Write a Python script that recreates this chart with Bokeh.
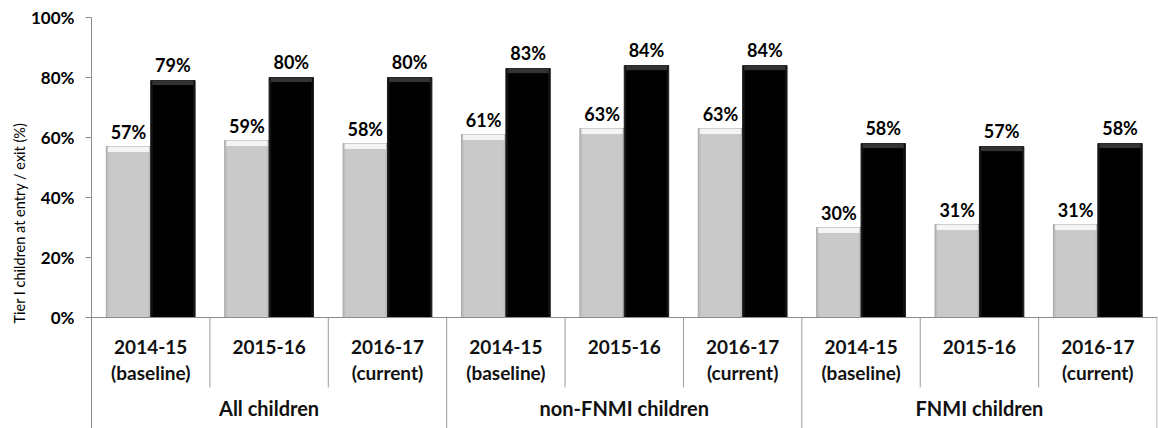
from bokeh.plotting import figure
from bokeh.models import ColumnDataSource, Range1d, FixedTicker, PrintfTickFormatter, Title
from bokeh.core.properties import value
from bokeh.embed import file_html
from bokeh.resources import INLINE

# Data: share of Tier I children at entry (grey) and exit (black)
groups = ["All children", "non-FNMI children", "FNMI children"]
years = ["2014-15", "2015-16", "2016-17"]
year_notes = ["(baseline)", "", "(current)"]
entry = [57, 59, 58, 61, 63, 63, 30, 31, 31]
exit_ = [79, 80, 80, 83, 84, 84, 58, 57, 58]
y_ticks = [0, 20, 40, 60, 80, 100]

FONT = "Lato"
n = len(entry)
centers = [i + 0.5 for i in range(n)]
bar_w = 0.375

p = figure(width=1158, height=428, output_backend="svg", toolbar_location=None,
           x_range=Range1d(0, n + 0.004), y_range=Range1d(-37, 100),
           min_border_left=91, min_border_right=1, min_border_top=17, min_border_bottom=0)
p.xaxis.visible = False
p.xgrid.visible = False
p.ygrid.visible = False
p.outline_line_color = None
p.background_fill_color = "white"

yaxis = p.yaxis[0]
yaxis.ticker = FixedTicker(ticks=y_ticks)
yaxis.formatter = PrintfTickFormatter(format="%d%%")
yaxis.axis_line_color = "#8c8c8c"
yaxis.major_tick_line_color = "#8c8c8c"
yaxis.major_tick_out = 6
yaxis.major_tick_in = 0
yaxis.minor_tick_line_color = None
yaxis.major_label_text_font = FONT
yaxis.major_label_text_font_size = "17px"
yaxis.major_label_text_font_style = "bold"
yaxis.major_label_text_color = "#000000"
yaxis.major_label_standoff = 11

# Vertical axis title, raised to sit beside the value scale
p.add_layout(Title(text="Tier I children at entry / exit (%)", align="center", offset=43,
                   text_font=FONT, text_font_size="14.5px", text_font_style="normal",
                   text_color="#000000", standoff=0), "left")

src = ColumnDataSource(dict(
    xe=[c - bar_w / 2 for c in centers],
    xx=[c + bar_w / 2 for c in centers],
    entry=entry,
    exit=exit_,
    entry_top=[v - 1.8 for v in entry],
    exit_top=[v - 1.6 for v in exit_],
    entry_lbl=[f"{v}%" for v in entry],
    exit_lbl=[f"{v}%" for v in exit_],
))

# Entry bars (light grey, bevelled top)
p.vbar(x="xe", top="entry", bottom=0, width=bar_w, source=src,
       fill_color="#bdbdbd", line_color="#a8a8a8", line_width=1)
p.vbar(x="xe", top="entry", bottom="entry_top", width=bar_w * 0.93, source=src,
       fill_color="#f4f4f4", line_color=None)
p.vbar(x="xe", top="entry_top", bottom=0, width=bar_w * 0.9, source=src,
       fill_color="#c9c9c9", line_color=None)

# Exit bars (black, bevelled top)
p.vbar(x="xx", top="exit", bottom=0, width=bar_w, source=src,
       fill_color="#111111", line_color="#1e1e1e", line_width=1)
p.vbar(x="xx", top="exit", bottom="exit_top", width=bar_w * 0.93, source=src,
       fill_color="#333333", line_color=None)
p.vbar(x="xx", top="exit_top", bottom=0, width=bar_w * 0.9, source=src,
       fill_color="#000000", line_color=None)

# Value labels above bars
p.text(x="xe", y="entry", text="entry_lbl", source=src, y_offset=-15,
       text_align="center", text_baseline="alphabetic",
       text_font=value(FONT), text_font_style="bold", text_font_size="18px",
       text_color="#000000")
p.text(x="xx", y="exit", text="exit_lbl", source=src, y_offset=-16,
       text_align="center", text_baseline="alphabetic",
       text_font=value(FONT), text_font_style="bold", text_font_size="18px",
       text_color="#000000")

# Baseline
p.segment(x0=[0], y0=[0], x1=[n + 0.004], y1=[0], line_color="#8c8c8c", line_width=1.2)

# Category dividers (short) and group dividers (full depth)
inner = [i for i in range(1, n) if i % len(years) != 0]
outer = [i for i in range(len(years), n + 1, len(years))]
p.segment(x0=inner, y0=[0] * len(inner), x1=inner, y1=[-23.3] * len(inner),
          line_color="#9a9a9a", line_width=1)
p.segment(x0=outer, y0=[0] * len(outer), x1=outer, y1=[-37] * len(outer),
          line_color="#9a9a9a", line_width=1)

# Category labels
year_lbl = [years[i % len(years)] for i in range(n)]
note_lbl = [year_notes[i % len(years)] for i in range(n)]
p.text(x=centers, y=[0] * n, text=year_lbl, y_offset=29,
       text_align="center", text_baseline="middle",
       text_font=value(FONT), text_font_style="bold", text_font_size="19px",
       text_color="#111111")
p.text(x=centers, y=[0] * n, text=note_lbl, y_offset=55,
       text_align="center", text_baseline="middle",
       text_font=value(FONT), text_font_style="bold", text_font_size="19px",
       text_color="#111111")

# Group labels
gx = [len(years) * g + len(years) / 2 for g in range(len(groups))]
p.text(x=gx, y=[0] * len(groups), text=groups, y_offset=90,
       text_align="center", text_baseline="middle",
       text_font=value(FONT), text_font_style="bold", text_font_size="20px",
       text_color="#111111")

open("out.html", "w").write(file_html(p, INLINE))
